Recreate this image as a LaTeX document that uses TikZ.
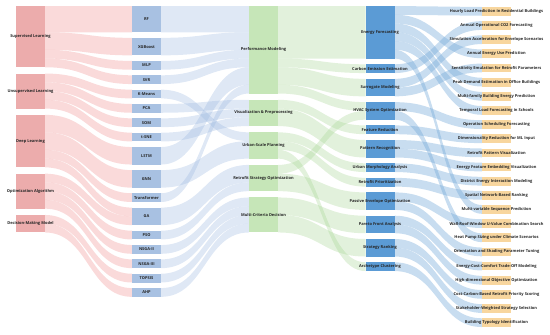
\documentclass[tikz,border=0pt]{standalone}
\usepackage{fontspec}
\setmainfont{Open Sans}
\usetikzlibrary{calc,backgrounds}

\definecolor{redbox}{RGB}{236,172,172}
\definecolor{redflow}{RGB}{240,150,150}
\definecolor{lbluebox}{RGB}{168,193,226}
\definecolor{lblueflow}{RGB}{150,180,222}
\definecolor{greenbox}{RGB}{198,230,184}
\definecolor{greenflow}{RGB}{160,210,140}
\definecolor{bluebox}{RGB}{91,155,213}
\definecolor{blueflow}{RGB}{110,165,215}
\definecolor{orangebox}{RGB}{248,214,158}

% band from a source block to a target block, offsets and width in units
\newcommand\flow[6]{%
  \fill[#1] let \p1=($(#2.north east)+(0,#3*8.75)$),
                \p2=($(#4.north west)+(0,#5*8.75)$),
                \p3=($(#2.north east)+(0,#3*8.75+#6*8.75)$),
                \p4=($(#4.north west)+(0,#5*8.75+#6*8.75)$) in
    (\p1) .. controls ({(\x1+\x2)/2},\y1) and ({(\x1+\x2)/2},\y2) .. (\p2)
    -- (\p4) .. controls ({(\x1+\x2)/2},\y4) and ({(\x1+\x2)/2},\y3) .. (\p3) -- cycle;}

\begin{document}
\begin{tikzpicture}[x=1bp,y=-1bp,
  blk/.style={anchor=north west,inner sep=0,outer sep=0,minimum width=29bp},
  u1/.style={minimum height=8.75bp},
  u2/.style={minimum height=17.5bp},
  u3/.style={minimum height=26.25bp},
  b1/.style={blk,fill=redbox},
  b2/.style={blk,fill=lbluebox},
  b3/.style={blk,fill=greenbox},
  b4/.style={blk,fill=bluebox},
  b5/.style={blk,u1,fill=orangebox},
  every label/.style={inner sep=0,text=black!85,font=\fontsize{4}{4.8}\selectfont\bfseries},
  f1/.style={redflow,fill opacity=0.35},
  f2/.style={lblueflow,fill opacity=0.3},
  f3/.style={greenflow,fill opacity=0.3},
  f4/.style={blueflow,fill opacity=0.38}]
\useasboundingbox (0,0) rectangle (550,334);

\node[b1,minimum height=61.25bp,label=center:Supervised Learning] (sup) at (16,6) {};
\node[b1,minimum height=35bp,label=center:Unsupervised Learning] (unsup) at (16,73.55) {};
\node[b1,minimum height=52.5bp,label=center:Deep Learning] (deep) at (16,114.85) {};
\node[b1,minimum height=35bp,label=center:Optimization Algorithm] (optim) at (16,173.65) {};
\node[b1,u2,label=center:Decision-Making Model] (decis) at (16,214.95) {};

\node[b2,u3,label=center:RF] (rf) at (132,6) {};
\node[b2,u2,label=center:XGBoost] (xgb) at (132,37.85) {};
\node[b2,u1,label=center:MLP] (mlp) at (132,60.95) {};
\node[b2,u1,label=center:SVR] (svr) at (132,75.3) {};
\node[b2,u1,label=center:K-Means] (kmeans) at (132,89.65) {};
\node[b2,u1,label=center:PCA] (pca) at (132,104) {};
\node[b2,u1,label=center:SOM] (som) at (132,118.35) {};
\node[b2,u1,label=center:t-SNE] (tsne) at (132,132.7) {};
\node[b2,u2,label=center:LSTM] (lstm) at (132,147.05) {};
\node[b2,u2,label=center:GNN] (gnn) at (132,170.15) {};
\node[b2,u1,label=center:Transformer] (transf) at (132,193.25) {};
\node[b2,u2,label=center:GA] (ga) at (132,207.6) {};
\node[b2,u1,label=center:PSO] (pso) at (132,230.7) {};
\node[b2,u1,label=center:NSGA-II] (nsgaii) at (132,245.05) {};
\node[b2,u1,label=center:NSGA-III] (nsgaiii) at (132,259.4) {};
\node[b2,u1,label=center:TOPSIS] (topsis) at (132,273.75) {};
\node[b2,u1,label=center:AHP] (ahp) at (132,288.1) {};

\node[b3,minimum height=87.5bp,label=center:Performance Modeling] (perf) at (249,6) {};
\node[b3,u3,label=center:Visualization \& Preprocessing] (vis) at (249,99.8) {};
\node[b3,u3,label=center:Urban-Scale Planning] (urban) at (249,132.35) {};
\node[b3,u3,label=center:Retrofit Strategy Optimization] (retro) at (249,164.9) {};
\node[b3,minimum height=35bp,label=center:Multi-Criteria Decision] (mcd) at (249,197.45) {};

\node[b4,minimum height=52.5bp,label=center:Energy Forecasting] (ef) at (365.5,6) {};
\node[b4,u1,label=center:Carbon Emission Estimation] (carbon) at (365.5,64.3) {};
\node[b4,u2,label=center:Surrogate Modeling] (surr) at (365.5,78.85) {};
\node[b4,u2,label=center:HVAC System Optimization] (hvac) at (365.5,102.15) {};
\node[b4,u1,label=center:Feature Reduction] (featred) at (365.5,125.45) {};
\node[b4,u2,label=center:Pattern Recognition] (patt) at (365.5,140) {};
\node[b4,u1,label=center:Urban Morphology Analysis] (morph) at (365.5,163.3) {};
\node[b4,u1,label=center:Retrofit Prioritization] (prio) at (365.5,177.85) {};
\node[b4,u2,label=center:Passive Envelope Optimization] (passive) at (365.5,192.4) {};
\node[b4,u2,label=center:Pareto Front Analysis] (pareto) at (365.5,215.7) {};
\node[b4,u2,label=center:Strategy Ranking] (rank) at (365.5,239) {};
\node[b4,u1,label=center:Archetype Clustering] (arch) at (365.5,262.3) {};

\node[b5,label=center:Hourly Load Prediction in Residential Buildings] (hourly) at (482,7) {};
\node[b5,label=center:Annual Operational CO2 Forecasting] (co2) at (482,21.15) {};
\node[b5,label=center:Simulation Acceleration for Envelope Scenarios] (simacc) at (482,35.3) {};
\node[b5,label=center:Annual Energy Use Prediction] (annual) at (482,49.45) {};
\node[b5,label=center:Sensitivity Emulation for Retrofit Parameters] (sens) at (482,63.6) {};
\node[b5,label=center:Peak Demand Estimation in Office Buildings] (peak) at (482,77.75) {};
\node[b5,label=center:Multi-family Building Energy Prediction] (multifam) at (482,91.9) {};
\node[b5,label=center:Temporal Load Forecasting in Schools] (temporal) at (482,106.05) {};
\node[b5,label=center:Operation Scheduling Forecasting] (opsched) at (482,120.2) {};
\node[b5,label=center:Dimensionality Reduction for ML Input] (dimred) at (482,134.35) {};
\node[b5,label=center:Retrofit Pattern Visualization] (retpat) at (482,148.5) {};
\node[b5,label=center:Energy Feature Embedding Visualization] (embed) at (482,162.65) {};
\node[b5,label=center:District Energy Interaction Modeling] (district) at (482,176.8) {};
\node[b5,label=center:Spatial Network-Based Ranking] (spatial) at (482,190.95) {};
\node[b5,label=center:Multi-variable Sequence Prediction] (seq) at (482,205.1) {};
\node[b5,label=center:Wall-Roof-Window U-Value Combination Search] (uvalue) at (482,219.25) {};
\node[b5,label=center:Heat Pump Sizing under Climate Scenarios] (heatpump) at (482,233.4) {};
\node[b5,label=center:Orientation and Shading Parameter Tuning] (shading) at (482,247.55) {};
\node[b5,label=center:Energy-Cost-Comfort Trade-Off Modeling] (tradeoff) at (482,261.7) {};
\node[b5,label=center:High-dimensional Objective Optimization] (highdim) at (482,275.85) {};
\node[b5,label=center:Cost-Carbon-Based Retrofit Priority Scoring] (costcarbon) at (482,290) {};
\node[b5,label=center:Stakeholder-Weighted Strategy Selection] (stake) at (482,304.15) {};
\node[b5,label=center:Building Typology Identification] (typology) at (482,318.3) {};

\begin{scope}[on background layer]
\flow{f1}{sup}{0}{rf}{0}{3}
\flow{f1}{sup}{3}{xgb}{0}{2}
\flow{f1}{sup}{5}{mlp}{0}{1}
\flow{f1}{sup}{6}{svr}{0}{1}
\flow{f1}{unsup}{0}{kmeans}{0}{1}
\flow{f1}{unsup}{1}{pca}{0}{1}
\flow{f1}{unsup}{2}{som}{0}{1}
\flow{f1}{unsup}{3}{tsne}{0}{1}
\flow{f1}{deep}{0}{lstm}{0}{2}
\flow{f1}{deep}{2}{gnn}{0}{2}
\flow{f1}{deep}{4}{transf}{0}{1}
\flow{f1}{deep}{5}{ga}{0}{1}
\flow{f1}{optim}{0}{ga}{1}{1}
\flow{f1}{optim}{1}{pso}{0}{1}
\flow{f1}{optim}{2}{nsgaii}{0}{1}
\flow{f1}{optim}{3}{nsgaiii}{0}{1}
\flow{f1}{decis}{0}{topsis}{0}{1}
\flow{f1}{decis}{1}{ahp}{0}{1}

\flow{f2}{rf}{0}{perf}{0}{3}
\flow{f2}{xgb}{0}{perf}{3}{2}
\flow{f2}{mlp}{0}{perf}{5}{1}
\flow{f2}{svr}{0}{perf}{6}{1}
\flow{f2}{lstm}{0}{perf}{7}{2}
\flow{f2}{transf}{0}{perf}{9}{1}
\flow{f2}{pca}{0}{vis}{0}{1}
\flow{f2}{som}{0}{vis}{1}{1}
\flow{f2}{tsne}{0}{vis}{2}{1}
\flow{f2}{kmeans}{0}{urban}{0}{1}
\flow{f2}{gnn}{0}{urban}{1}{2}
\flow{f2}{ga}{0}{retro}{0}{2}
\flow{f2}{pso}{0}{retro}{2}{1}
\flow{f2}{nsgaii}{0}{mcd}{0}{1}
\flow{f2}{nsgaiii}{0}{mcd}{1}{1}
\flow{f2}{topsis}{0}{mcd}{2}{1}
\flow{f2}{ahp}{0}{mcd}{3}{1}

\flow{f3}{perf}{0}{ef}{0}{6}
\flow{f3}{perf}{6}{carbon}{0}{1}
\flow{f3}{perf}{7}{surr}{0}{2}
\flow{f3}{perf}{9}{hvac}{0}{1}
\flow{f3}{vis}{0}{featred}{0}{1}
\flow{f3}{vis}{1}{patt}{0}{2}
\flow{f3}{urban}{0}{morph}{0}{1}
\flow{f3}{urban}{1}{prio}{0}{1}
\flow{f3}{urban}{2}{arch}{0}{1}
\flow{f3}{retro}{0}{hvac}{1}{1}
\flow{f3}{retro}{1}{passive}{0}{2}
\flow{f3}{mcd}{0}{pareto}{0}{2}
\flow{f3}{mcd}{2}{rank}{0}{2}

\flow{f4}{ef}{0}{hourly}{0}{1}
\flow{f4}{ef}{1}{annual}{0}{1}
\flow{f4}{ef}{2}{peak}{0}{1}
\flow{f4}{ef}{3}{multifam}{0}{1}
\flow{f4}{ef}{4}{temporal}{0}{1}
\flow{f4}{ef}{5}{seq}{0}{1}
\flow{f4}{carbon}{0}{co2}{0}{1}
\flow{f4}{surr}{0}{simacc}{0}{1}
\flow{f4}{surr}{1}{sens}{0}{1}
\flow{f4}{hvac}{0}{opsched}{0}{1}
\flow{f4}{hvac}{1}{heatpump}{0}{1}
\flow{f4}{featred}{0}{dimred}{0}{1}
\flow{f4}{patt}{0}{retpat}{0}{1}
\flow{f4}{patt}{1}{embed}{0}{1}
\flow{f4}{morph}{0}{district}{0}{1}
\flow{f4}{prio}{0}{spatial}{0}{1}
\flow{f4}{passive}{0}{uvalue}{0}{1}
\flow{f4}{passive}{1}{shading}{0}{1}
\flow{f4}{pareto}{0}{tradeoff}{0}{1}
\flow{f4}{pareto}{1}{highdim}{0}{1}
\flow{f4}{rank}{0}{costcarbon}{0}{1}
\flow{f4}{rank}{1}{stake}{0}{1}
\flow{f4}{arch}{0}{typology}{0}{1}
\end{scope}
\end{tikzpicture}
\end{document}
